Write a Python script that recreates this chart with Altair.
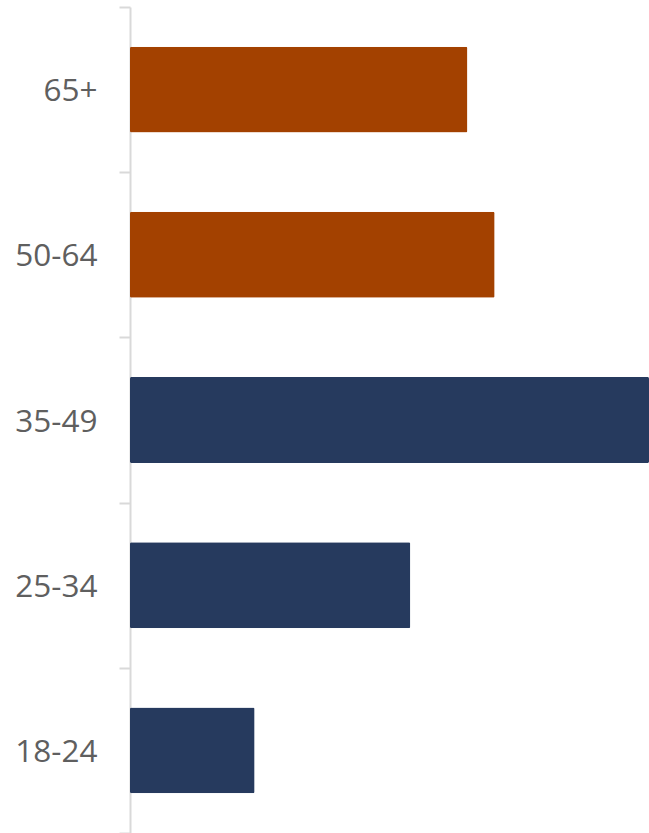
import altair as alt
import pandas as pd

age_groups = ["65+", "50-64", "35-49", "25-34", "18-24"]
values = [26.0, 28.1, 40.0, 21.6, 9.6]
groups = ["older", "older", "younger", "younger", "younger"]

df = pd.DataFrame({"age": age_groups, "value": values, "group": groups})

chart = alt.Chart(df).mark_bar(cornerRadius=1.5, height=alt.RelativeBandSize(0.52)).encode(
    y=alt.Y(
        "age:N",
        sort=age_groups,
        title=None,
        scale=alt.Scale(paddingInner=0, paddingOuter=0),
        axis=alt.Axis(
            tickBand="extent",
            domainColor="#d9d9d9",
            tickColor="#d9d9d9",
            domainWidth=2,
            tickWidth=2,
            tickSize=11,
            labelPadding=22,
            labelOffset=2,
            labelFont="Open Sans",
            labelFontSize=31.5,
            labelColor="#5f5f5f",
            labelBaseline="middle",
        ),
    ),
    x=alt.X(
        "value:Q",
        title=None,
        scale=alt.Scale(domain=[0, 40], nice=False),
        axis=None,
    ),
    color=alt.Color(
        "group:N",
        scale=alt.Scale(domain=["older", "younger"], range=["#A34100", "#263A5E"]),
        legend=None,
    ),
).properties(
    width=519,
    height=826,
    autosize=alt.AutoSizeParams(type="none"),
    padding={"left": 130, "top": 7, "right": 0, "bottom": 0},
).configure_view(stroke=None)

chart.save("out.html", embed_options={"renderer": "svg", "actions": False})
